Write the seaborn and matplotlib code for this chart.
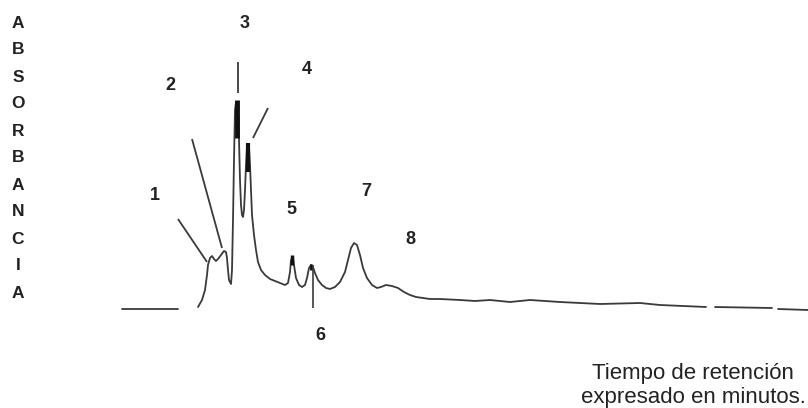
import numpy as np
import pandas as pd
import matplotlib
matplotlib.use("Agg")
import matplotlib.pyplot as plt
import seaborn as sns

# ---- data (time in arbitrary minutes, absorbance in arbitrary units) ----
trace_time = [9.8, 10.2, 10.5, 10.7, 10.8, 11.0, 11.2, 11.4, 11.6, 11.8, 12.1, 12.4, 12.6,
              12.7, 12.8, 12.9, 13.1, 13.2, 13.3, 13.4, 13.5, 13.6, 13.8, 13.9, 14.0, 14.1,
              14.2, 14.3, 14.4, 14.5, 14.6, 14.7, 14.9, 15.0, 15.1, 15.2, 15.4, 15.6, 15.8,
              16.1, 16.5, 17.0, 17.5, 18.0, 18.5, 18.8, 19.0, 19.1, 19.3, 19.4, 19.6, 19.9,
              20.2, 20.5, 20.7, 20.9, 21.1, 21.3, 21.5, 21.8, 22.2, 22.6, 23.0, 23.5, 24.0,
              24.5, 24.8, 25.1, 25.4, 25.7, 26.0, 26.3, 26.7, 27.2, 27.7, 28.1, 28.6, 29.2,
              29.8, 30.4, 31.0, 31.6, 32.3, 33.0, 34.0, 36.0, 37.5, 39.0, 41.0, 43.0, 46.0,
              50.0, 54.0, 56.0, 60.6]
trace_abs = [3, 10, 20, 35, 45, 52, 54, 51, 49, 51, 55, 59, 58,
             52, 40, 30, 26, 40, 90, 150, 200, 208, 208, 170, 130, 105,
             95, 93, 100, 120, 145, 163, 163, 145, 120, 95, 75, 60, 48,
             40, 35, 31, 29, 27, 25, 27, 38, 50, 53, 45, 32, 25,
             23, 25, 32, 42, 45, 43, 37, 30, 25, 22, 21, 23, 28,
             38, 50, 62, 67, 65, 55, 42, 32, 25, 22, 23, 25, 24,
             22, 18, 15, 13, 12, 11, 11, 10, 9, 10, 8, 10, 8,
             6, 7, 5, 3]
tail2_time = [61.5, 67.2]
tail2_abs = [3, 2]
tail3_time = [67.8, 70.8]
tail3_abs = [1, 0]
base_time = [2.2, 7.8]
base_abs = [1, 1]

# peak annotations
peak_labels = ["1", "2", "3", "4", "5", "6", "7", "8"]
label_time = [5.5, 7.0, 14.5, 20.7, 19.1, 22.0, 26.6, 31.0]
label_abs = [115, 225, 286, 240, 100, -25, 118, 70]
leader_t0 = [7.8, 9.2, 13.8, 16.8]
leader_a0 = [91, 171, 248, 202]
leader_t1 = [10.7, 12.2, 13.8, 15.3]
leader_a1 = [48, 62, 217, 172]
# thick pen marks at peak tops
mark_time = [13.7, 14.8, 19.2, 21.1]
mark_lo = [172, 138, 45, 40]
mark_hi = [210, 167, 55, 46]
mark_lw = [3.5, 3.0, 2.5, 2.0]
spike_time = [21.3]
spike_lo = [2]
spike_hi = [45]

ylabel_letters = list("ABSORBANCIA")
xlabel_lines = ["Tiempo de retención", "expresado en minutos."]

# ---- figure ----
sns.set_theme(style="white")
plt.rcParams['font.family'] = ['Liberation Sans', 'DejaVu Sans']
fig = plt.figure(figsize=(8.08, 4.08), dpi=100)
ax = fig.add_axes([0, 0, 1, 1])
ax.set_xlim(-10, 70.8)
ax.set_ylim(-98, 310)
ax.axis("off")

segs = []
for sid, (tt, aa) in enumerate([(base_time, base_abs), (trace_time, trace_abs),
                                (tail2_time, tail2_abs), (tail3_time, tail3_abs)]):
    segs.append(pd.DataFrame({"t": tt, "a": aa, "seg": sid}))
df = pd.concat(segs, ignore_index=True)
line_col = "#3a3a3a"
sns.lineplot(data=df, x="t", y="a", units="seg", estimator=None, sort=False,
             color=line_col, linewidth=1.3, ax=ax, legend=False)

for t0, a0, t1, a1 in zip(leader_t0, leader_a0, leader_t1, leader_a1):
    ax.plot([t0, t1], [a0, a1], color=line_col, lw=1.3, solid_capstyle="butt")
for t, lo, hi, lw in zip(mark_time, mark_lo, mark_hi, mark_lw):
    ax.vlines(t, lo, hi, color="#111111", lw=lw)
ax.vlines(spike_time, spike_lo, spike_hi, color=line_col, lw=1.2)

for lab, t, a in zip(peak_labels, label_time, label_abs):
    ax.text(t, a, lab, ha="center", va="center", fontsize=13, fontweight="bold", color="#222222")

for i, ch in enumerate(ylabel_letters):
    ax.text(-8.2, 310 - (23 + 27 * i), ch, ha="center", va="center",
            fontsize=12.5, fontweight="bold", color="#222222")

ax.text(59.3, -64, xlabel_lines[0], ha="center", va="center", fontsize=16, color="#222222")
ax.text(59.3, -88, xlabel_lines[1], ha="center", va="center", fontsize=16, color="#222222")

fig.savefig("out.png", dpi=100)
